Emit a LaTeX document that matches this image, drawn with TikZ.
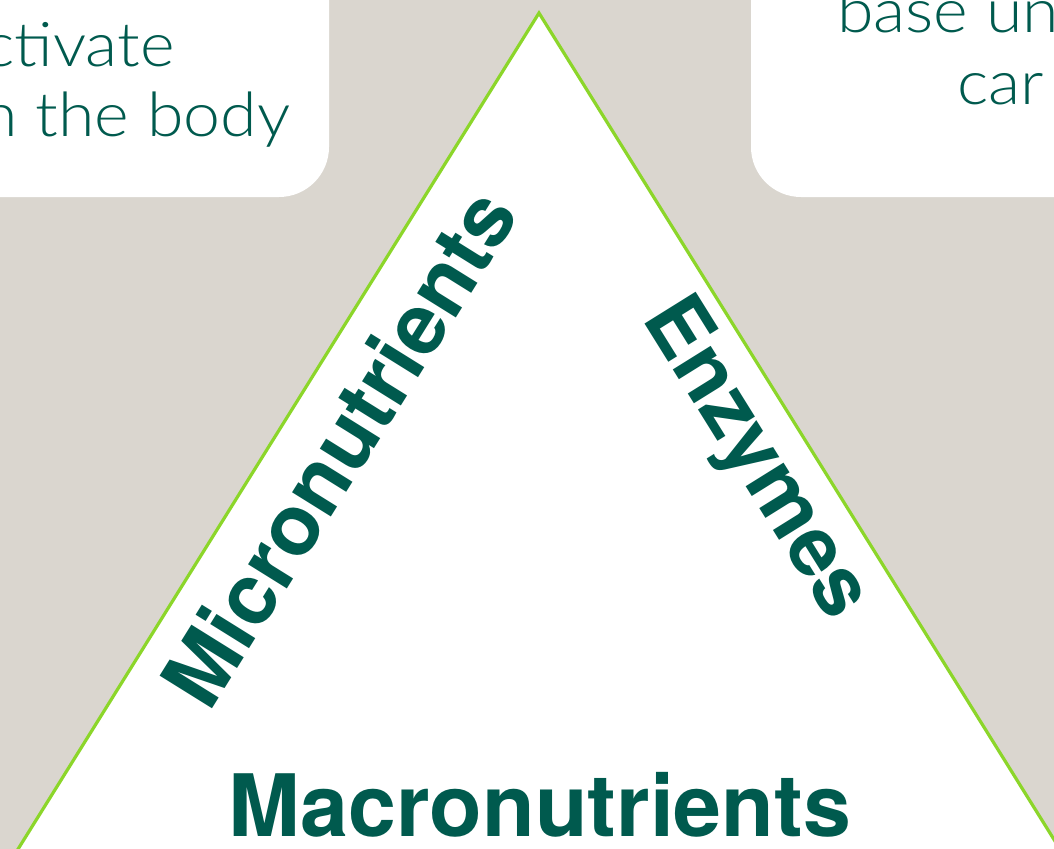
\documentclass[tikz,border=0pt]{standalone}
\usepackage{fontspec}
\setmainfont{TeX Gyre Heros}
\IfFontExistsTF{Lato Light}{\newfontfamily\lightfont{Lato Light}[FakeStretch=1.08]}{%
  \IfFontExistsTF{Fira Sans Light}{\newfontfamily\lightfont{Fira Sans Light}}{%
    \newfontfamily\lightfont{TeX Gyre Heros}}}
\definecolor{bgcol}{HTML}{DAD6CF}
\definecolor{dkgreen}{HTML}{005A4E}
\definecolor{lime}{HTML}{8CD62A}
\begin{document}
\begin{tikzpicture}[x=0.75pt,y=-0.75pt,
  boxfill/.style={fill=white, rounded corners=37.5pt},
  tri/.style={fill=white, draw=lime, line width=2.4pt, line join=miter},
  bigtxt/.style={text=dkgreen, inner sep=0pt, font=\fontsize{63.5}{63.5}\selectfont\bfseries},
  lighttxt/.style={text=dkgreen, inner sep=0pt, anchor=base west, font=\lightfont\fontsize{46}{46}\selectfont}]
\useasboundingbox (0,0) rectangle (1054,849);
\clip (0,0) rectangle (1054,849);
\fill[bgcol] (0,0) rectangle (1054,849);
% top boxes
\fill[boxfill] (-80,-80) rectangle (329,197);
\fill[boxfill] (751,-80) rectangle (1134,197);
\node[lighttxt] (l1) at (-17,67) {ctivate};
\node[lighttxt] (l2) at (-19,137) {n the body};
\node[lighttxt] (r1) at (837,33) {base un};
\node[lighttxt] (r2) at (957,105) {car};
% triangle
\coordinate (apex) at (539,13);
\coordinate (bl) at (5,870);
\coordinate (br) at (1073,870);
\draw[tri] (apex) -- (br) -- (bl) -- cycle;
% labels
\node[bigtxt, anchor=base, font=\fontsize{64.6}{64.6}\selectfont\bfseries] (macro) at (540,836) {Macronutrients};
\node[bigtxt, anchor=base, rotate=58.07] (micro) at (365,464) {Micronutrients};
\node[bigtxt, anchor=base, rotate=-58.07, font=\fontsize{62}{62}\selectfont\bfseries] (enz) at (736,471) {Enzymes};
\end{tikzpicture}
\end{document}
